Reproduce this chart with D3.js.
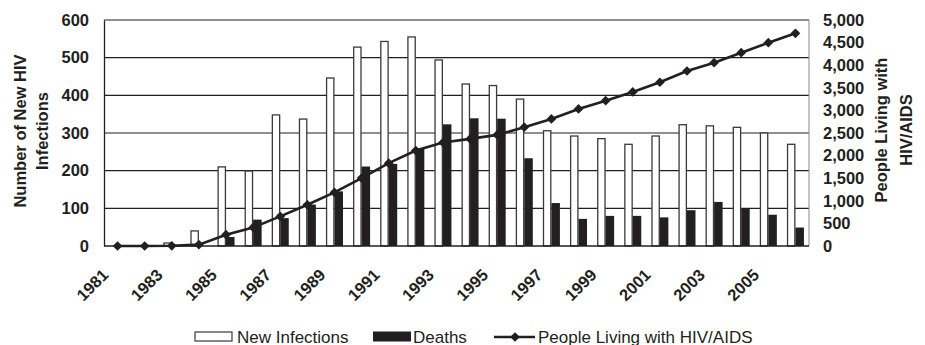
<!DOCTYPE html>
<html>
<head>
<meta charset="utf-8">
<script src="https://cdn.jsdelivr.net/npm/d3@7"></script>
<style>
    body { margin: 0; background: #fff; }
    svg { display: block; font-family: "Liberation Sans", Arial, sans-serif; }
</style>
</head>
<body>
<svg class="hivChart"></svg>
<script>
// chart data
const years = [1981, 1982, 1983, 1984, 1985, 1986, 1987, 1988, 1989, 1990, 1991, 1992, 1993,
               1994, 1995, 1996, 1997, 1998, 1999, 2000, 2001, 2002, 2003, 2004, 2005, 2006];
const newInfections = [0, 0, 8, 40, 210, 199, 348, 337, 446, 528, 543, 555, 494,
                       430, 426, 390, 306, 292, 285, 270, 292, 322, 319, 315, 300, 270];
const deaths = [0, 0, 0, 0, 24, 70, 74, 110, 145, 211, 218, 258, 323,
                339, 338, 233, 114, 72, 80, 80, 76, 95, 117, 100, 83, 49];
const living = [0, 0, 5, 30, 250, 410, 655, 912, 1185, 1502, 1833, 2112, 2290,
                2370, 2459, 2628, 2812, 3033, 3216, 3408, 3623, 3872, 4056, 4277, 4498, 4705];
const xTickYears = [1981, 1983, 1985, 1987, 1989, 1991, 1993, 1995, 1997, 1999, 2001, 2003, 2005];
const leftTicks = [0, 100, 200, 300, 400, 500, 600];
const rightTicks = [0, 500, 1000, 1500, 2000, 2500, 3000, 3500, 4000, 4500, 5000];
const legendLabels = ["New Infections", "Deaths", "People Living with HIV/AIDS"];

const ink = "#231f20";

function drawChart() {
    const margin = {top: 20, right: 116, bottom: 99, left: 104},
        width = 925 - margin.left - margin.right,
        height = 345 - margin.top - margin.bottom;

    const root = d3.select(".hivChart")
        .attr("width", 925)
        .attr("height", 345);

    const svg = root.append("g")
        .attr("transform", `translate(${margin.left},${margin.top})`);

    const x = d3.scaleBand().domain(years).range([0, width]);
    const bw = x.bandwidth();
    const xSub = d3.scaleBand().domain(["ni", "d"]).range([bw / 2 - 8.5, bw / 2 + 8.5]);

    const y = d3.scaleLinear().domain([0, 600]).range([height, 0]);
    const y2 = d3.scaleLinear().domain([0, 5000]).range([height, 0]);

    // gridlines
    svg.append("g")
        .selectAll("line")
        .data(leftTicks.slice(1))
        .enter().append("line")
        .attr("x1", 0)
        .attr("x2", width)
        .attr("y1", d => y(d))
        .attr("y2", d => y(d))
        .attr("stroke", ink)
        .attr("stroke-width", 1.2);

    // right border
    svg.append("line")
        .attr("x1", width).attr("x2", width)
        .attr("y1", 0).attr("y2", height)
        .attr("stroke", "#888")
        .attr("stroke-width", 1);

    // bars
    const groups = svg.append("g")
        .selectAll("g")
        .data(years.map((yr, i) => ({year: yr, ni: newInfections[i], d: deaths[i]})))
        .enter().append("g")
        .attr("transform", d => `translate(${x(d.year)},0)`);

    groups.filter(d => d.ni > 0).append("rect")
        .attr("x", xSub("ni") + 0.6)
        .attr("y", d => y(d.ni))
        .attr("width", xSub.bandwidth() - 1.2)
        .attr("height", d => height - y(d.ni))
        .attr("fill", "#fff")
        .attr("stroke", "#3a3a3a")
        .attr("stroke-width", 1.3);

    groups.filter(d => d.d > 0).append("rect")
        .attr("x", xSub("d"))
        .attr("y", d => y(d.d))
        .attr("width", xSub.bandwidth())
        .attr("height", d => height - y(d.d))
        .attr("fill", ink);

    // left axis
    const leftAxis = svg.append("g")
        .call(d3.axisLeft(y).tickValues(leftTicks).tickSize(0).tickPadding(15));
    leftAxis.select(".domain").attr("stroke", ink).attr("stroke-width", 1.3);
    leftAxis.selectAll(".tick text")
        .style("font-size", "16.5px")
        .style("font-weight", "bold")
        .attr("fill", ink);

    // right axis
    const rightAxis = svg.append("g")
        .attr("transform", `translate(${width},0)`)
        .call(d3.axisRight(y2).tickValues(rightTicks).tickSize(0).tickPadding(14).tickFormat(d3.format(",")));
    rightAxis.select(".domain").remove();
    rightAxis.selectAll(".tick text")
        .style("font-size", "16.5px")
        .style("font-weight", "bold")
        .attr("fill", ink);

    // bottom axis line
    svg.append("line")
        .attr("x1", 0).attr("x2", width)
        .attr("y1", height).attr("y2", height)
        .attr("stroke", ink)
        .attr("stroke-width", 1.5);

    // x tick labels
    svg.append("g")
        .selectAll("text")
        .data(xTickYears)
        .enter().append("text")
        .attr("transform", d => `translate(${x(d) + bw / 2 - 8},${height + 30}) rotate(-45)`)
        .attr("text-anchor", "end")
        .style("font-size", "16.5px")
        .style("font-weight", "bold")
        .attr("fill", ink)
        .text(d => d);

    // line + markers
    const line = d3.line()
        .x((d, i) => x(years[i]) + bw / 2)
        .y(d => y2(d));

    svg.append("path")
        .datum(living)
        .attr("d", line)
        .attr("fill", "none")
        .attr("stroke", ink)
        .attr("stroke-width", 2.6);

    const diamond = d3.symbol().type(d3.symbolDiamond2).size(60);
    svg.append("g")
        .selectAll("path")
        .data(living)
        .enter().append("path")
        .attr("d", diamond)
        .attr("transform", (d, i) => `translate(${x(years[i]) + bw / 2},${y2(d)})`)
        .attr("fill", ink);

    // axis titles
    const leftTitle = root.append("text")
        .attr("transform", "translate(0,131) rotate(-90)")
        .attr("text-anchor", "middle")
        .style("font-size", "16.5px")
        .style("font-weight", "bold")
        .attr("fill", ink);
    leftTitle.append("tspan").attr("x", 0).attr("y", 26).text("Number of New HIV");
    leftTitle.append("tspan").attr("x", 0).attr("y", 47.5).text("Infections");

    const rightTitle = root.append("text")
        .attr("transform", "translate(0,130) rotate(-90)")
        .attr("text-anchor", "middle")
        .style("font-size", "16.5px")
        .style("font-weight", "bold")
        .attr("fill", ink);
    rightTitle.append("tspan").attr("x", 0).attr("y", 887).text("People Living with");
    rightTitle.append("tspan").attr("x", 0).attr("y", 911.5).text("HIV/AIDS");

    // legend
    const legend = root.append("g").attr("transform", "translate(0,0)");
    legend.append("rect")
        .attr("x", 195).attr("y", 332).attr("width", 37).attr("height", 9)
        .attr("fill", "#fff").attr("stroke", "#3a3a3a").attr("stroke-width", 1.2);
    legend.append("rect")
        .attr("x", 373).attr("y", 331.5).attr("width", 38).attr("height", 10)
        .attr("fill", ink);
    legend.append("line")
        .attr("x1", 494).attr("x2", 535).attr("y1", 337).attr("y2", 337)
        .attr("stroke", ink).attr("stroke-width", 2.6);
    legend.append("path")
        .attr("d", diamond)
        .attr("transform", "translate(515,337)")
        .attr("fill", ink);

    legend.selectAll("text.lbl")
        .data(legendLabels)
        .enter().append("text")
        .attr("class", "lbl")
        .attr("x", (d, i) => [237, 413, 538][i])
        .attr("y", 342.5)
        .style("font-size", "17px")
        .attr("fill", ink)
        .text(d => d);
}

document.addEventListener('DOMContentLoaded', drawChart);
</script>
</body>
</html>
